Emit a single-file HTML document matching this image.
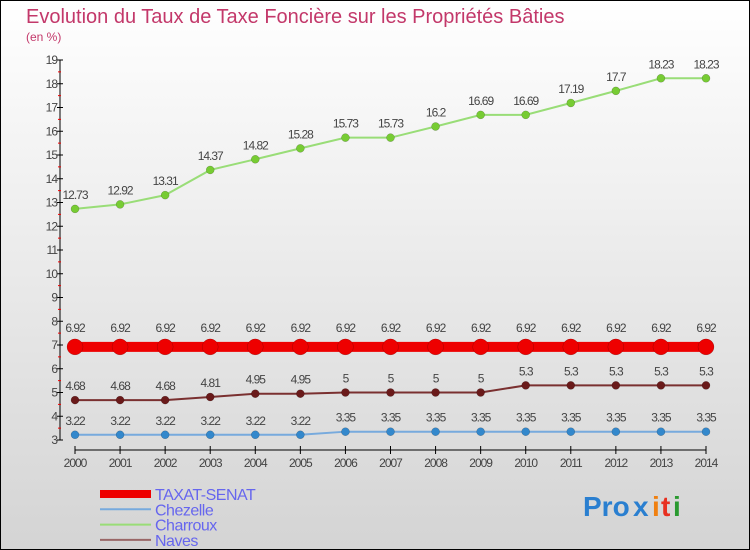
<!DOCTYPE html>
<html><head><meta charset="utf-8"><style>
body{margin:0}
svg{display:block;font-family:"Liberation Sans",sans-serif}
</style></head><body>
<svg width="750" height="550" viewBox="0 0 750 550">
<defs><linearGradient id="bg" x1="0" y1="0" x2="0" y2="1"><stop offset="0" stop-color="#ffffff"/><stop offset="1" stop-color="#d4d4d4"/></linearGradient></defs>
<rect x="0.5" y="0.5" width="749" height="549" fill="url(#bg)" stroke="#000"/>
<text x="26" y="23" font-size="20" fill="#c3386a">Evolution du Taux de Taxe Foncière sur les Propriétés Bâties</text>
<text x="26" y="41" font-size="12" fill="#c3386a">(en %)</text>
<g id="axes"></g>
<g id="series"></g>
<g id="legend"></g>
<g font-size="28" font-weight="bold">
<text x="583" y="516" fill="#2a7fd0">Pro</text><text x="633" y="516" fill="#2a7fd0">x</text><text x="652" y="516" fill="#f08010">i</text><text x="661" y="516" fill="#e83020">t</text><text x="673" y="516" fill="#2a9a30">i</text>
</g>
</svg>
<script>
const years=[2000,2001,2002,2003,2004,2005,2006,2007,2008,2009,2010,2011,2012,2013,2014];
const taxat=[6.92,6.92,6.92,6.92,6.92,6.92,6.92,6.92,6.92,6.92,6.92,6.92,6.92,6.92,6.92];
const chezelle=[3.22,3.22,3.22,3.22,3.22,3.22,3.35,3.35,3.35,3.35,3.35,3.35,3.35,3.35,3.35];
const charroux=[12.73,12.92,13.31,14.37,14.82,15.28,15.73,15.73,16.2,16.69,16.69,17.19,17.7,18.23,18.23];
const naves=[4.68,4.68,4.68,4.81,4.95,4.95,5,5,5,5,5.3,5.3,5.3,5.3,5.3];
const yTicks=[3,4,5,6,7,8,9,10,11,12,13,14,15,16,17,18,19];
const NS="http://www.w3.org/2000/svg";
const X=i=>75+i*(706-75)/(years.length-1);
const Y=v=>440-(v-3)*(380/16);
function mk(tag,attrs,parent){const e=document.createElementNS(NS,tag);for(const k in attrs)e.setAttribute(k,attrs[k]);parent.appendChild(e);return e;}
const ax=document.getElementById('axes');
let l=mk('line',{x1:60,y1:Y(19),x2:60,y2:Y(3),stroke:'#000'},ax);


yTicks.forEach(v=>{
  mk('line',{x1:57,y1:Y(v),x2:63,y2:Y(v),stroke:'#000'},ax);
  if(v<19)mk('line',{x1:58,y1:Y(v+0.5),x2:61,y2:Y(v+0.5),stroke:'#e00'},ax);
  const t=mk('text',{x:57,y:Y(v)+4,'font-size':12,fill:'#444','text-anchor':'end','letter-spacing':'-1'},ax);
  t.textContent=v;
  
  
});
l=mk('line',{x1:75,y1:450,x2:706,y2:450,stroke:'#000'},ax);


years.forEach((y,i)=>{
  mk('line',{x1:X(i),y1:446,x2:X(i),y2:454,stroke:'#000'},ax);
  const t=mk('text',{x:X(i),y:467,'font-size':12,fill:'#444','text-anchor':'middle','letter-spacing':'-1'},ax);
  t.textContent=y;
  
  
});
const sg=document.getElementById('series');
function series(name,vals,color,dot,w,r,labOff){
  const g=mk('g',{},sg);
  
  
  mk('polyline',{points:vals.map((v,i)=>X(i)+','+Y(v)).join(' '),fill:'none',stroke:color,'stroke-width':w},g);
  vals.forEach((v,i)=>{
    const c=mk('circle',{cx:X(i),cy:Y(v),r:r,fill:dot,stroke:'rgba(0,0,0,0.3)','stroke-width':0.5},g);
    
    
    const t=mk('text',{x:X(i),y:Y(v)-labOff,'font-size':12,fill:'#444','text-anchor':'middle','letter-spacing':'-1'},g);
    t.textContent=v;
    
    
  });
}
series('charroux',charroux,'#99dd77','#77cc33',2,4,10);
series('naves',naves,'#7a3030','#6a1a1a',2,4,10);
series('chezelle',chezelle,'#77aadd','#3388cc',2,4,10);
series('taxat-senat',taxat,'#ee0000','#ee0000',10,8,15);
const lg=document.getElementById('legend');
const items=[['TAXAT-SENAT','#ee0000',8],['Chezelle','#77aadd',2],['Charroux','#99dd77',2],['Naves','#996666',2]];
items.forEach((it,i)=>{
  const y=494+i*15.3;
  const g=mk('g',{},lg);
  
  
  mk('line',{x1:100,y1:y,x2:151,y2:y,stroke:it[1],'stroke-width':it[2]},g);
  const t=mk('text',{x:155,y:y+6,'font-size':16,fill:'#6666ee','letter-spacing':'-0.5'},g);
  t.textContent=it[0];
});
</script>
</body></html>
